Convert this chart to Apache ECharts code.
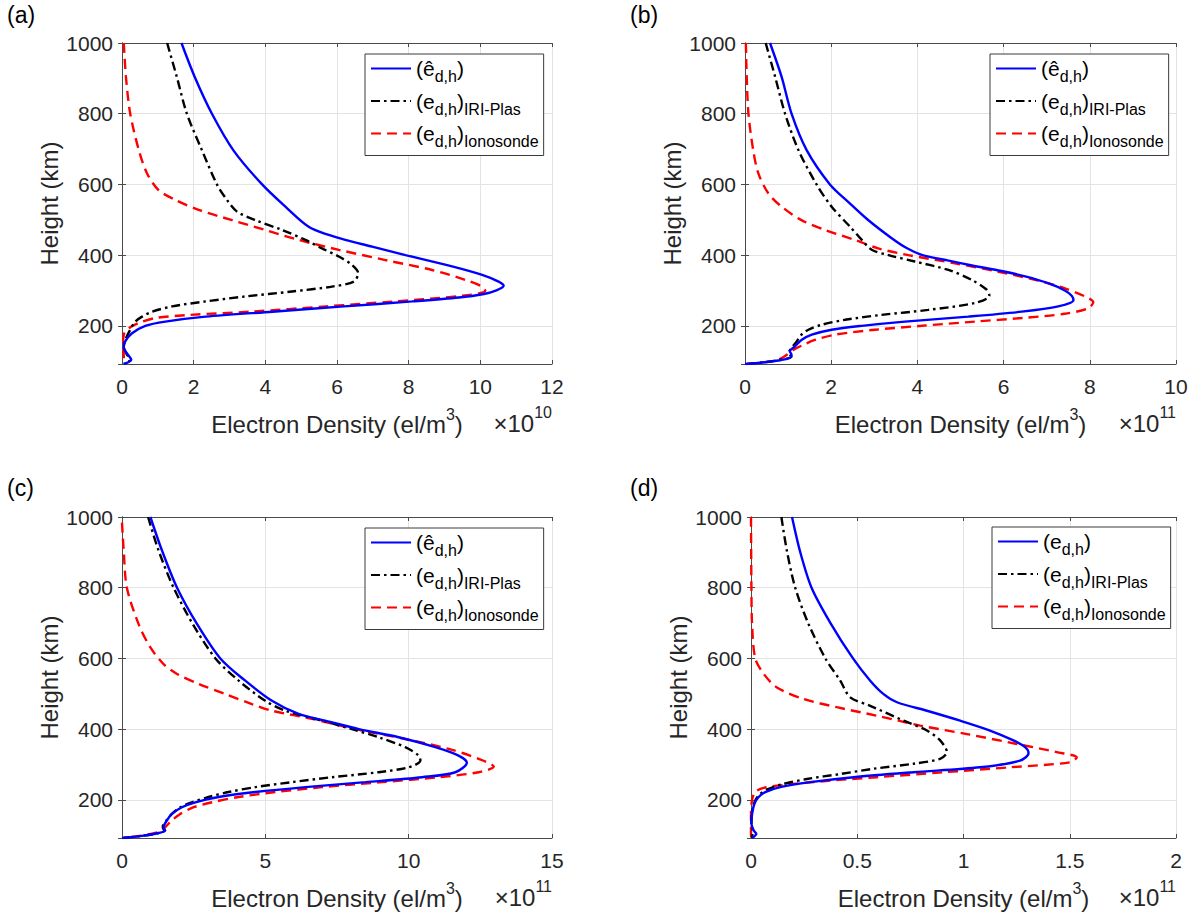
<!DOCTYPE html>
<html>
<head>
<meta charset="utf-8">
<script src="https://cdn.jsdelivr.net/npm/echarts@6/dist/echarts.min.js"></script>
<style>
  html, body { margin: 0; padding: 0; background: #fff; }
  #chart { width: 1198px; height: 917px; }
</style>
</head>
<body>
<div id="chart"></div>
<script>
// ---------------- DATA (height km / density in axis units) ----------------
// Panel (a)  (x10^10 el/m^3)
const aEstH = [1000, 904, 800, 695, 600, 537, 480, 457, 443, 424, 400, 368, 344, 325, 313, 300, 290, 280, 269, 255, 240, 226, 212, 200, 179, 156, 137, 118, 104, 92];
const aEstN = [1.66, 2.03, 2.51, 3.12, 3.91, 4.56, 5.21, 5.77, 6.23, 6.98, 7.91, 9.21, 10.05, 10.51, 10.65, 10.45, 10.1, 9.4, 8.1, 6.2, 4.2, 2.33, 1.21, 0.65, 0.28, 0.09, 0.05, 0.17, 0.26, 0.05];
const aIriH = [1000, 904, 800, 697, 600, 556, 523, 499, 471, 443, 419, 396, 372, 349, 325, 311, 297, 283, 269, 255, 240, 226, 212, 189, 160, 142, 118, 104, 92];
const aIriN = [1.26, 1.53, 1.81, 2.23, 2.65, 2.93, 3.21, 3.72, 4.47, 5.12, 5.58, 6.05, 6.42, 6.59, 6.47, 5.86, 4.74, 3.44, 2.33, 1.40, 0.84, 0.56, 0.37, 0.23, 0.09, 0.05, 0.14, 0.23, 0.05];
const aIonH = [1000, 904, 800, 697, 631, 584, 556, 528, 499, 471, 443, 415, 386, 358, 330, 311, 299, 285, 269, 255, 240, 231, 222, 208, 193, 175, 142, 113, 92];
const aIonN = [0.05, 0.11, 0.23, 0.47, 0.70, 1.02, 1.49, 2.14, 3.07, 4.00, 4.93, 6.05, 7.35, 8.65, 9.58, 10.05, 10.14, 9.5, 7.6, 5.7, 3.6, 1.9, 0.93, 0.47, 0.19, 0.05, 0.03, 0.05, 0.05];

// Panel (b)  (x10^11 el/m^3)
const bEstH = [1000, 904, 800, 697, 600, 550, 500, 450, 420, 400, 385, 370, 355, 340, 320, 300, 285, 272, 255, 240, 226, 212, 200, 189, 175, 160, 142, 128, 118, 109, 102, 95, 92];
const bEstN = [0.58, 0.85, 1.08, 1.43, 1.97, 2.40, 2.85, 3.38, 3.75, 4.12, 4.70, 5.30, 5.95, 6.50, 7.05, 7.42, 7.58, 7.62, 7.27, 6.42, 5.18, 3.71, 2.71, 2.01, 1.55, 1.31, 1.16, 1.04, 1.08, 1.04, 0.77, 0.31, 0.0];
const bIriH = [1000, 904, 800, 697, 600, 537, 480, 443, 415, 400, 382, 358, 330, 302, 285, 265, 245, 231, 217, 203, 189, 175, 156, 137, 123, 113, 102, 95, 92];
const bIriN = [0.48, 0.70, 0.93, 1.24, 1.66, 2.01, 2.44, 2.71, 2.94, 3.33, 3.94, 4.72, 5.26, 5.61, 5.67, 5.35, 4.25, 3.17, 2.32, 1.78, 1.47, 1.31, 1.20, 1.08, 1.01, 1.08, 0.73, 0.31, 0.0];
const bIonH = [1000, 904, 800, 697, 631, 575, 537, 499, 471, 443, 419, 400, 377, 353, 330, 306, 283, 267, 250, 234, 222, 212, 200, 189, 175, 160, 146, 132, 118, 104, 96, 92];
const bIonN = [0.02, 0.04, 0.08, 0.19, 0.31, 0.54, 0.85, 1.31, 1.86, 2.55, 3.09, 3.79, 4.87, 5.88, 6.73, 7.42, 7.89, 8.08, 7.97, 7.42, 6.42, 5.34, 4.10, 3.02, 2.09, 1.62, 1.35, 1.12, 0.97, 0.77, 0.39, 0.0];

// Panel (c)  (x10^11 el/m^3)
const cEstH = [1000, 904, 800, 697, 600, 537, 480, 443, 419, 400, 377, 349, 325, 305, 278, 264, 250, 236, 222, 208, 193, 179, 160, 142, 123, 113, 104, 98, 92];
const cEstN = [0.99, 1.40, 1.92, 2.62, 3.43, 4.30, 5.23, 6.16, 7.33, 8.26, 9.65, 10.93, 11.74, 12.03, 11.63, 10.47, 8.49, 6.40, 4.65, 3.37, 2.56, 2.09, 1.74, 1.57, 1.45, 1.51, 1.16, 0.70, 0.0];
const cIriH = [1000, 904, 800, 697, 600, 537, 480, 452, 424, 400, 377, 349, 325, 311, 292, 278, 264, 250, 236, 222, 208, 193, 179, 160, 142, 123, 113, 104, 98, 92];
const cIriN = [0.91, 1.28, 1.80, 2.47, 3.26, 4.07, 5.00, 5.70, 6.98, 8.02, 8.95, 9.88, 10.35, 10.41, 10.0, 8.95, 7.33, 5.93, 4.65, 3.72, 3.02, 2.44, 2.03, 1.74, 1.55, 1.42, 1.49, 1.16, 0.70, 0.0];
const cIonH = [984, 904, 800, 697, 631, 584, 556, 528, 499, 471, 452, 429, 400, 372, 344, 316, 294, 278, 264, 250, 236, 222, 208, 193, 179, 160, 142, 123, 109, 99, 92];
const cIonN = [0.0, 0.06, 0.17, 0.58, 0.99, 1.45, 1.92, 2.67, 3.60, 4.53, 5.23, 6.63, 8.14, 9.88, 11.40, 12.44, 12.97, 12.44, 11.05, 9.07, 6.98, 5.35, 4.07, 3.14, 2.50, 2.03, 1.74, 1.51, 1.28, 0.70, 0.0];

// Panel (d)  (x10^11 el/m^3)
const dEstH = [1000, 900, 800, 700, 600, 537, 499, 476, 452, 424, 396, 368, 349, 332, 311, 292, 278, 264, 250, 236, 222, 208, 189, 160, 132, 113, 104, 92];
const dEstN = [0.193, 0.232, 0.285, 0.374, 0.480, 0.561, 0.624, 0.687, 0.828, 0.984, 1.125, 1.235, 1.29, 1.306, 1.266, 1.078, 0.765, 0.483, 0.279, 0.138, 0.067, 0.036, 0.016, 0.005, 0.002, 0.013, 0.025, 0.005];
const dIriH = [1000, 904, 800, 697, 600, 537, 490, 466, 424, 396, 368, 335, 316, 302, 288, 273, 259, 245, 231, 217, 198, 170, 132, 109, 92];
const dIriN = [0.143, 0.169, 0.208, 0.271, 0.35, 0.42, 0.467, 0.561, 0.718, 0.828, 0.890, 0.922, 0.89, 0.765, 0.577, 0.42, 0.263, 0.154, 0.083, 0.044, 0.02, 0.006, 0.002, 0.009, 0.002];
const dIonH = [1000, 800, 697, 600, 556, 518, 485, 462, 438, 410, 386, 358, 335, 320, 306, 292, 278, 264, 255, 245, 234, 222, 200, 160, 92];
const dIonN = [0.0, 0.002, 0.005, 0.02, 0.06, 0.122, 0.248, 0.404, 0.592, 0.796, 1.016, 1.251, 1.439, 1.533, 1.50, 1.219, 0.906, 0.592, 0.389, 0.201, 0.06, 0.02, 0.005, 0.0, 0.0];

// Axes
const xMax = [12, 10, 15, 2];
const xStep = [2, 2, 5, 0.5];
const xExp = ['10', '11', '11', '11'];
const panelTags = ['(a)', '(b)', '(c)', '(d)'];
const yMin = 92, yMax = 1000;

// Legend labels (rich text)
const estLabel = '{m|(ê}{s|d,h}{m|)}';
const estLabelD = '{m|(e}{s|d,h}{m|)}';
const iriLabel = '{m|(e}{s|d,h}{m|)}{s|IRI-Plas}';
const ionLabel = '{m|(e}{s|d,h}{m|)}{s|Ionosonde}';

// ---------------- LAYOUT ----------------
const grids = [
  { left: 122, top: 43, width: 430, height: 321 },
  { left: 745, top: 43, width: 431, height: 321 },
  { left: 122, top: 517, width: 430, height: 321 },
  { left: 751, top: 517, width: 425, height: 321 }
];
const legendPos = [
  { left: 365, top: 54 },
  { left: 990, top: 54 },
  { left: 365, top: 528 },
  { left: 992, top: 527 }
];
const FONT = '"Liberation Sans", Arial, Helvetica, sans-serif';
const AX = '#4a4a4a';
const TXT = '#262626';

const panelData = [
  [[aEstN, aEstH], [aIriN, aIriH], [aIonN, aIonH]],
  [[bEstN, bEstH], [bIriN, bIriH], [bIonN, bIonH]],
  [[cEstN, cEstH], [cIriN, cIriH], [cIonN, cIonH]],
  [[dEstN, dEstH], [dIriN, dIriH], [dIonN, dIonH]]
];
const styles = [
  { color: '#0000ff', type: 'solid' },
  { color: '#000000', type: [9, 4, 2.5, 4] },
  { color: '#ff0000', type: [10, 6] }
];
const kinds = ['est', 'iri', 'ion'];

const xAxis = [], yAxis = [], series = [], legend = [], graphic = [];
const labelMap = {};

grids.forEach((g, i) => {
  // bottom axis
  xAxis.push({
    gridIndex: i, type: 'value', min: 0, max: xMax[i], interval: xStep[i],
    position: 'bottom',
    name: '{m|Electron Density (el/m}{p|3}{m|)}',
    nameLocation: 'middle', nameGap: 42,
    nameTextStyle: {
      fontFamily: FONT, color: TXT,
      rich: {
        m: { fontSize: 24, fontFamily: FONT, color: TXT },
        p: { fontSize: 16, fontFamily: FONT, color: TXT, padding: [0, 0, 20, 0] }
      }
    },
    axisLine: { show: true, lineStyle: { color: AX, width: 1 } },
    axisTick: { show: true, inside: true, length: 4, lineStyle: { color: AX } },
    axisLabel: { fontSize: 21, fontFamily: FONT, color: TXT, margin: 12 },
    splitLine: { show: true, lineStyle: { color: '#e3e3e3', width: 1 } }
  });
  // top axis (box)
  xAxis.push({
    gridIndex: i, type: 'value', min: 0, max: xMax[i], interval: xStep[i],
    position: 'top',
    axisLine: { show: true, lineStyle: { color: AX, width: 1 } },
    axisTick: { show: true, inside: true, length: 4, lineStyle: { color: AX } },
    axisLabel: { show: false },
    splitLine: { show: false }
  });
  yAxis.push({
    gridIndex: i, type: 'value', min: yMin, max: yMax,
    position: 'left',
    name: 'Height (km)', nameLocation: 'middle', nameGap: 61,
    nameTextStyle: { fontSize: 24, fontFamily: FONT, color: TXT },
    axisLine: { show: true, lineStyle: { color: AX, width: 1 } },
    axisTick: { show: true, inside: true, length: 4, lineStyle: { color: AX } },
    axisLabel: { fontSize: 21, fontFamily: FONT, color: TXT, margin: 9, showMinLabel: false,
                 formatter: (v) => String(v) },
    splitLine: { show: true, lineStyle: { color: '#e3e3e3', width: 1 } }
  });
  yAxis.push({
    gridIndex: i, type: 'value', min: yMin, max: yMax,
    position: 'right',
    axisLine: { show: true, lineStyle: { color: AX, width: 1 } },
    axisTick: { show: true, inside: true, length: 4, lineStyle: { color: AX } },
    axisLabel: { show: false },
    splitLine: { show: false }
  });

  const names = [];
  panelData[i].forEach((pair, k) => {
    const [N, H] = pair;
    const name = panelTags[i] + ' ' + kinds[k];
    names.push(name);
    labelMap[name] = k === 0 ? (i === 3 ? estLabelD : estLabel) : (k === 1 ? iriLabel : ionLabel);
    series.push({
      type: 'line', name,
      xAxisIndex: 2 * i, yAxisIndex: 2 * i,
      data: H.map((h, j) => [N[j], h]),
      symbol: 'none', showSymbol: false, smooth: 0.3, clip: true,
      lineStyle: { color: styles[k].color, width: 2.4, type: styles[k].type },
      itemStyle: { color: styles[k].color },
      z: 3 - k
    });
  });

  legend.push({
    data: names, orient: 'vertical',
    left: legendPos[i].left, top: legendPos[i].top,
    padding: [4, 5, 6, 5], itemGap: 6, itemWidth: 40, itemHeight: 14,
    backgroundColor: '#ffffff', borderColor: '#3a3a3a', borderWidth: 1, borderRadius: 0,
    selectedMode: false,
    itemStyle: { opacity: 0, borderWidth: 0 },
    formatter: (n) => labelMap[n],
    textStyle: {
      fontFamily: FONT, color: '#000',
      rich: {
        m: { fontSize: 21, fontFamily: FONT, color: '#000' },
        s: { fontSize: 16, fontFamily: FONT, color: '#000', padding: [16, 0, 0, 0] }
      }
    }
  });

  // panel tag
  graphic.push({
    type: 'text', left: i % 2 === 0 ? 7 : 630, top: i < 2 ? 3 : 476,
    style: { text: panelTags[i], fontSize: 23, fontFamily: FONT, fill: '#000' }
  });
  // x10^n multiplier
  graphic.push({
    type: 'text', silent: true,
    x: g.left + g.width, y: g.top + g.height + 59,
    style: {
      text: '{m|×10}{s|' + xExp[i] + '}',
      align: 'right', textAlign: 'right', verticalAlign: 'middle', textVerticalAlign: 'middle',
      rich: {
        m: { fontSize: 24, fontFamily: FONT, fill: TXT, color: TXT },
        s: { fontSize: 16, fontFamily: FONT, fill: TXT, color: TXT, padding: [0, 0, 22, 0] }
      }
    }
  });
});

const chart = echarts.init(document.getElementById('chart'), null, { renderer: 'svg' });
chart.setOption({
  animation: false,
  backgroundColor: '#ffffff',
  grid: grids.map(g => Object.assign({ containLabel: false }, g)),
  xAxis, yAxis, series, legend, graphic
});
</script>
</body>
</html>
